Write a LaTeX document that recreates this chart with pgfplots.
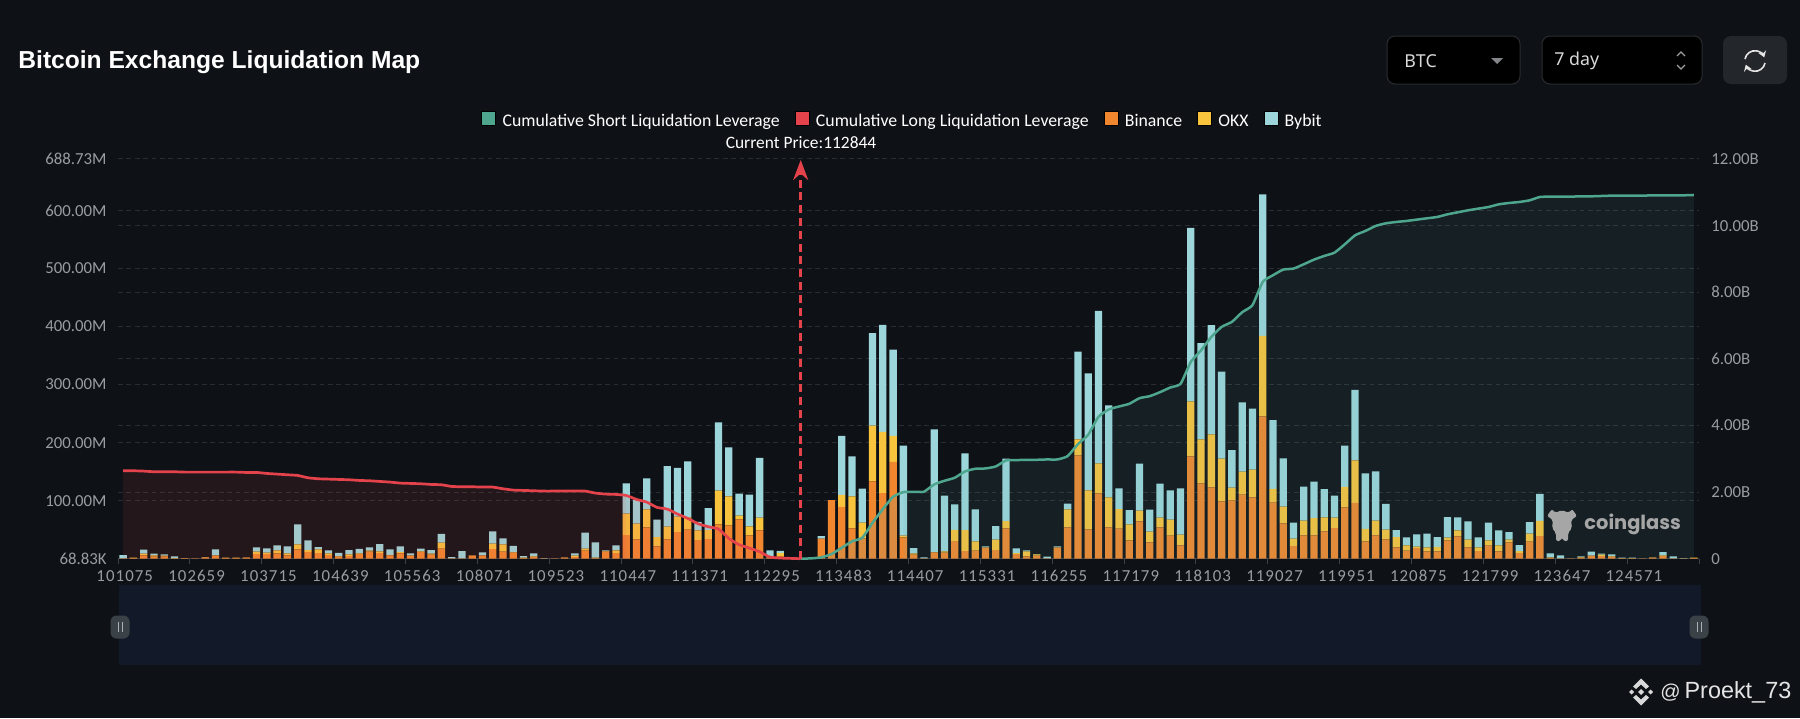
\documentclass[border=0pt]{standalone}
\usepackage{fontspec}
\usepackage{pgfplots}
\usepackage{pgfplotstable}
\pgfplotsset{compat=1.18}
\usetikzlibrary{arrows.meta}
\setmainfont{Carlito}
\newfontfamily\spacedfont[LetterSpace=6.5]{Carlito}
\newfontfamily\titlefont{Liberation Sans}
\newfontfamily\uifont{Noto Sans}
\newfontfamily\logofont{Poppins}

\definecolor{bg}{HTML}{0E1116}
\definecolor{gridc}{HTML}{292D31}
\definecolor{tickc}{HTML}{9A9DA0}
\definecolor{shortc}{HTML}{4FA68F}
\definecolor{longc}{HTML}{E5434B}
\definecolor{binance}{HTML}{F0872F}
\definecolor{okx}{HTML}{F8C33D}
\definecolor{bybit}{HTML}{9CD6DA}
\definecolor{slider}{HTML}{121A2A}
\definecolor{handle}{HTML}{3A4247}

% liquidation per price band, millions
\pgfplotstableread{
i b o y
0 0.6 0 5.7
1 1.1 0.6 0
2 5.7 2.9 6.9
3 3.4 2.3 2.9
4 4.0 1.1 2.3
5 0.6 0.6 2.9
6 0.6 0.6 0
7 0.6 0 0
8 1.7 1.1 0
9 5.2 0.6 10.3
10 1.1 0.6 0
11 1.1 0.6 0
12 1.7 0.6 0
13 8.0 4.0 7.5
14 8.0 2.3 7.5
15 9.2 5.2 8.6
16 5.7 3.4 12.1
17 16.1 8.6 34.5
18 11.5 3.4 16.7
19 9.8 6.3 4.0
20 6.3 2.9 5.2
21 3.4 1.1 5.7
22 4.6 2.9 7.5
23 8.0 1.1 8.0
24 12.1 1.7 5.7
25 9.8 2.9 12.6
26 5.7 1.1 9.2
27 9.2 2.3 9.8
28 5.2 0.6 3.4
29 11.5 1.1 4.6
30 6.9 1.7 6.3
31 17.2 10.3 15.5
32 0.6 0 2.3
33 0.6 0 12.6
34 5.2 0.6 0
35 5.7 0 5.2
36 16.7 9.2 21.3
37 12.1 12.6 10.3
38 10.3 1.1 10.9
39 1.1 0.6 2.9
40 2.9 1.1 5.2
41 0.6 0 0.6
42 0.6 0 0
43 1.7 0.6 0
44 2.9 2.3 4.0
45 13.8 3.4 27.6
46 0.6 1.1 26.4
47 12.1 1.1 1.1
48 9.8 4.6 8.6
49 40.8 36.8 52.3
50 33.3 27.0 40.8
51 54.0 31.0 53.4
52 21.3 16.1 29.9
53 33.3 21.8 104.6
54 46.0 26.4 83.9
55 50.0 21.3 96.6
56 32.2 16.7 14.4
57 33.9 15.5 37.9
58 59.2 58.0 117.8
59 57.5 50.0 84.5
60 67.8 6.3 37.9
61 40.2 15.5 54.6
62 48.9 21.8 102.9
63 1.7 0.6 12.1
64 3.4 6.3 4.0
65 0 0 0
66 0 0 0
67 0 0 0
68 34.5 0 4.6
69 101.1 0 0
70 89.1 20.7 101.7
71 52.3 55.2 69.0
72 35.1 27.0 58.6
73 133.3 96.0 159.2
74 113.2 105.2 184.5
75 166.7 44.8 148.9
76 36.8 2.9 155.2
77 6.9 2.3 9.2
78 0.6 0 1.7
79 10.9 0.6 211.5
80 10.3 2.3 96.0
81 30.5 19.0 44.3
82 13.2 36.2 132.2
83 13.8 16.1 55.2
84 19.0 0.6 1.7
85 14.9 17.8 23.6
86 52.3 12.6 107.5
87 8.0 1.7 8.0
88 4.0 8.6 1.7
89 5.2 2.3 0.6
90 0.6 0 2.9
91 19.0 0.6 1.7
92 54.0 31.0 9.8
93 178.2 27.6 151.1
94 50.6 67.2 201.7
95 112.6 51.7 262.6
96 54.0 51.7 158.6
97 51.7 33.9 35.6
98 31.6 27.6 24.7
99 64.4 18.4 81.0
100 28.2 18.4 37.9
101 54.0 16.7 58.6
102 39.7 27.6 50.6
103 23.0 18.4 79.9
104 176.4 94.8 298.9
105 129.9 75.9 165.5
106 123.0 91.4 187.9
107 98.9 73.6 150.0
108 100.6 21.8 64.9
109 110.3 39.7 119.5
110 105.7 47.7 105.2
111 245.4 138.5 243.7
112 96.6 23.6 118.4
113 60.9 28.7 83.3
114 21.8 12.6 27.6
115 40.2 25.3 58.6
116 40.2 29.9 62.6
117 47.1 24.1 48.9
118 52.9 17.8 37.9
119 88.5 35.1 71.3
120 96.0 73.6 121.3
121 29.9 21.3 96.0
122 40.2 25.3 85.1
123 33.3 16.7 44.3
124 19.5 17.8 12.1
125 13.8 9.2 13.8
126 18.4 2.3 21.3
127 12.6 6.9 23.6
128 12.6 8.0 16.7
129 31.6 4.6 35.6
130 38.5 10.3 22.4
131 19.5 13.2 31.6
132 13.2 6.3 17.2
133 22.4 9.2 30.5
134 12.6 10.3 25.9
135 28.2 4.6 13.2
136 9.8 3.4 10.3
137 29.3 13.8 20.1
138 39.1 26.0 46.6
139 1.7 0.6 6.9
140 0.6 0 5.2
141 0.6 0 0
142 1.7 1.1 1.1
143 5.2 0 6.9
144 4.6 2.3 1.7
145 3.4 1.1 2.9
146 0.6 0.6 0.6
147 0.6 0.6 0.6
148 0.6 0 0
149 1.7 0.6 0
150 4.6 1.1 5.7
151 0.6 0 3.4
152 0.6 0 0.6
153 1.1 0.6 0
}\bands

% cumulative long, billions
\pgfplotstableread{
i v
0 2.64
1 2.64
2 2.63
3 2.61
4 2.61
5 2.61
6 2.60
7 2.60
8 2.60
9 2.60
10 2.60
11 2.60
12 2.59
13 2.59
14 2.56
15 2.54
16 2.52
17 2.50
18 2.43
19 2.40
20 2.39
21 2.38
22 2.37
23 2.35
24 2.34
25 2.32
26 2.30
27 2.27
28 2.26
29 2.25
30 2.23
31 2.22
32 2.17
33 2.16
34 2.16
35 2.15
36 2.15
37 2.10
38 2.06
39 2.05
40 2.04
41 2.03
42 2.03
43 2.03
44 2.03
45 2.03
46 1.97
47 1.94
48 1.93
49 1.90
50 1.78
51 1.70
52 1.54
53 1.49
54 1.34
55 1.21
56 1.05
57 0.96
58 0.89
59 0.61
60 0.42
61 0.32
62 0.21
63 0.05
64 0.02
65 0.01
66 0
}\longcum

% cumulative short, billions
\pgfplotstableread{
i v
66 0
67 0.01
68 0.04
69 0.14
70 0.33
71 0.52
72 0.63
73 1.08
74 1.49
75 1.86
76 2.00
77 2.01
78 2.01
79 2.23
80 2.34
81 2.43
82 2.62
83 2.70
84 2.71
85 2.77
86 2.95
87 2.96
88 2.97
89 2.97
90 2.98
91 2.98
92 3.08
93 3.44
94 3.72
95 4.26
96 4.48
97 4.57
98 4.65
99 4.82
100 4.88
101 5.00
102 5.14
103 5.25
104 5.91
105 6.26
106 6.66
107 6.96
108 7.11
109 7.40
110 7.61
111 8.31
112 8.51
113 8.68
114 8.71
115 8.84
116 8.98
117 9.09
118 9.19
119 9.44
120 9.71
121 9.84
122 9.99
123 10.07
124 10.11
125 10.14
126 10.18
127 10.22
128 10.26
129 10.34
130 10.40
131 10.46
132 10.51
133 10.56
134 10.64
135 10.68
136 10.71
137 10.76
138 10.86
139 10.87
140 10.87
141 10.87
142 10.88
143 10.88
144 10.89
145 10.90
146 10.90
147 10.90
148 10.90
149 10.91
150 10.91
151 10.91
152 10.91
153 10.92
}\shortcum

\pgfplotsset{
  chartbox/.style={
    scale only axis, width=790.5pt, height=199.85pt,
    at={(59pt,-279.35pt)}, anchor=south west,
    xmin=-0.5, xmax=153.5, scaled y ticks=false,
  },
}

\begin{document}
\begin{tikzpicture}[x=0.5pt,y=-0.5pt]
\fill[bg] (0,0) rectangle (1800,718);
\useasboundingbox (0,0) rectangle (1800,718);

% bars, left scale
\begin{axis}[chartbox,
    ymin=0, ymax=688.73,
    axis x line=bottom, axis y line=left,
    axis line style={-},
    x axis line style={draw=handle},
    y axis line style={draw=none},
    ytick style={draw=none}, xtick style={draw=none},
    major tick length=0pt, tick align=outside,
    ymajorgrids, grid style={gridc, line width=0.5pt, dash pattern=on 2.4pt off 1.8pt},
    ytick={0.07,100,200,300,400,500,600,688.73},
    yticklabels={68.83K,100.00M,200.00M,300.00M,400.00M,500.00M,600.00M,688.73M},
    yticklabel style={anchor=east, inner sep=0pt, xshift=-5.5pt, font=\fontsize{8.4pt}{10pt}\selectfont, text=tickc},
    xtick={0,7,...,147},
    xticklabels={101075,102659,103715,104639,105563,108071,109523,110447,111371,112295,113483,114407,115331,116255,117179,118103,119027,119951,120875,121799,123647,124571},
    xticklabel style={anchor=north, inner sep=0pt, yshift=-5.5pt, xshift=0.8pt, font=\spacedfont\fontsize{8.4pt}{10pt}\selectfont, text=tickc},
    extra x ticks={-0.5,6.5,...,153.5},
    extra x tick labels={},
    extra x tick style={xtick style={draw=handle, line width=0.5pt}, major tick length=2.5pt},
    extra y ticks={114.79,229.58,344.37,459.15,573.94},
    extra y tick labels={},
    ybar stacked, bar width=3.65pt, bar shift=0pt,
  ]
  \addplot[draw=none, fill=binance] table[x=i,y=b] {\bands};
  \addplot[draw=none, fill=okx] table[x=i,y=o] {\bands};
  \addplot[draw=none, fill=bybit] table[x=i,y=y] {\bands};
\end{axis}

% cumulative lines, right scale
\begin{axis}[chartbox,
    ymin=0, ymax=12, clip=false,
    axis x line=none, axis y line=right,
    y axis line style={draw=none},
    ytick style={draw=none}, major tick length=0pt,
    xtick=\empty,
    ytick={0,2,4,6,8,10,12},
    yticklabels={0,2.00B,4.00B,6.00B,8.00B,10.00B,12.00B},
    yticklabel style={anchor=west, inner sep=0pt, xshift=6pt, font=\fontsize{8.4pt}{10pt}\selectfont, text=tickc},
    legend columns=5,
    legend style={at={(0.4962,1.095)}, anchor=center, draw=none, fill=none,
      text=white, font=\fontsize{8.88pt}{10pt}\selectfont,
      /tikz/every even column/.append style={column sep=6.5pt},
      /tikz/every odd column/.append style={column sep=2.2pt},
      /tikz/nodes={inner sep=1pt}},
    legend image code/.code={\fill[#1] (0pt,-1.5pt) rectangle (7pt,5.5pt);},
    legend cell align=left,
  ]
  \addplot[forget plot, draw=none, fill={rgb,255:red,224;green,77;blue,82}, fill opacity=0.1, restrict x to domain=0:49] table[x=i,y=v] {\longcum} \closedcycle;
  \addplot[forget plot, draw=none, fill={rgb,255:red,94;green,167;blue,162}, fill opacity=0.1, restrict x to domain=76:153] table[x=i,y=v] {\shortcum} \closedcycle;
  % tint of the bars under the curve where the area itself does not show
  \addplot[forget plot, ybar, bar width=3.65pt, bar shift=0pt, draw=none, fill={rgb,255:red,224;green,77;blue,82}, fill opacity=0.12] coordinates {
    (49,1.90)(50,1.76)(51,1.70)(52,1.17)(53,1.49)(54,1.34)(55,1.21)(56,1.05)(57,0.96)(58,0.89)(59,0.61)(60,0.42)(61,0.32)(62,0.21)(63,0.05)(64,0.02)};
  \addplot[forget plot, ybar, bar width=3.65pt, bar shift=0pt, draw=none, fill={rgb,255:red,94;green,167;blue,162}, fill opacity=0.14] coordinates {
    (68,0.04)(69,0.14)(70,0.33)(71,0.52)(72,0.63)(73,1.08)(74,1.49)(75,1.86)};
  \addplot[forget plot, longc, line width=1.35pt, smooth, tension=0.3] table[x=i,y=v] {\longcum};
  \addplot[forget plot, shortc, line width=1.25pt, smooth, tension=0.3] table[x=i,y=v] {\shortcum};
  \addplot[forget plot, longc, line width=1.3pt, dash pattern=on 4pt off 2.4pt, -{Stealth[length=10pt,width=7.5pt]}] coordinates {(66,0)(66,11.97)};
  \addlegendimage{fill=shortc}\addlegendentry{Cumulative Short Liquidation Leverage}
  \addlegendimage{fill=longc}\addlegendentry{Cumulative Long Liquidation Leverage}
  \addlegendimage{fill=binance}\addlegendentry{Binance}
  \addlegendimage{fill=okx}\addlegendentry{OKX}
  \addlegendimage{fill=bybit}\addlegendentry{Bybit}
\end{axis}

\node[text=white, font=\fontsize{8.7pt}{10pt}\selectfont] at (801,143) {Current Price:112844};
\node[anchor=west, inner sep=0pt, text=white, font=\titlefont\bfseries\fontsize{12.3pt}{14pt}\selectfont] at (18,62) {Bitcoin Exchange Liquidation Map};

% selectors
\draw[draw=gridc, fill=black, rounded corners=4pt, line width=0.5pt] (1387,36) rectangle (1520,84);
\draw[draw=gridc, fill=black, rounded corners=4pt, line width=0.5pt] (1542,36) rectangle (1702,84);
\fill[fill={rgb,255:red,35;green,38;blue,43}, rounded corners=4pt] (1723,36) rectangle (1787,84);
\node[anchor=west, inner sep=0pt, text=white!85!black, font=\uifont\fontsize{8.9pt}{11pt}\selectfont] at (1404,61) {BTC};
\node[anchor=west, inner sep=0pt, text=white!85!black, font=\uifont\fontsize{8.9pt}{11pt}\selectfont] at (1554,61) {7 day};
\fill[tickc!85!black] (1491,58) -- (1503,58) -- (1497,64) -- cycle;
\draw[tickc, line width=0.6pt] (1677,56) -- (1681,52) -- (1685,56) (1677,65) -- (1681,69) -- (1685,65);
\draw[white!90!black, line width=0.8pt, -{Stealth[length=3pt,width=4pt]}] (1745,59) arc[start angle=190, end angle=340, radius=10];
\draw[white!90!black, line width=0.8pt, -{Stealth[length=3pt,width=4pt]}] (1765,63) arc[start angle=10, end angle=160, radius=10];

% zoom slider
\fill[slider] (119,585) rectangle (1701,665);
\fill[handle, rounded corners=3pt] (110.5,615.5) rectangle (129.5,638.5);
\fill[handle, rounded corners=3pt] (1689.5,615.5) rectangle (1708.5,638.5);
\draw[tickc!80!white, line width=0.5pt] (118,622) -- (118,632) (122,622) -- (122,632) (1697,622) -- (1697,632) (1701,622) -- (1701,632);

% coinglass mark
\fill[white!65!black, rounded corners=1pt] (1547,516) -- (1552,509) -- (1555,513) -- (1562,510) -- (1569,513) -- (1572,509) -- (1577,516) -- (1571,520) -- (1572,528) -- (1568,533) -- (1568,541) -- (1563,541) -- (1562,537) -- (1561,541) -- (1556,541) -- (1556,533) -- (1552,528) -- (1553,520) -- cycle;
\node[anchor=west, inner sep=0pt, text=white!65!black, font=\logofont\bfseries\fontsize{9.7pt}{12pt}\selectfont] at (1584,524) {coinglass};

% credit
\fill[white!85!black] (1641,678.5) -- (1649,686.5) -- (1646,689) -- (1641,684.5) -- (1636,689) -- (1633,686.5) -- cycle;
\fill[white!85!black] (1641,705.5) -- (1649,697.5) -- (1646,695) -- (1641,699.5) -- (1636,695) -- (1633,697.5) -- cycle;
\fill[white!85!black] (1641,689) -- (1644,692) -- (1641,695) -- (1638,692) -- cycle;
\fill[white!85!black] (1631.5,689.5) -- (1634,692) -- (1631.5,694.5) -- (1629,692) -- cycle;
\fill[white!85!black] (1650.5,689.5) -- (1653,692) -- (1650.5,694.5) -- (1648,692) -- cycle;
\node[anchor=west, inner sep=0pt, text=white!90!black, font=\titlefont\fontsize{11.7pt}{14pt}\selectfont] at (1660,692) {{\fontsize{10pt}{12pt}\selectfont @}\,Proekt\_73};
\end{tikzpicture}
\end{document}
